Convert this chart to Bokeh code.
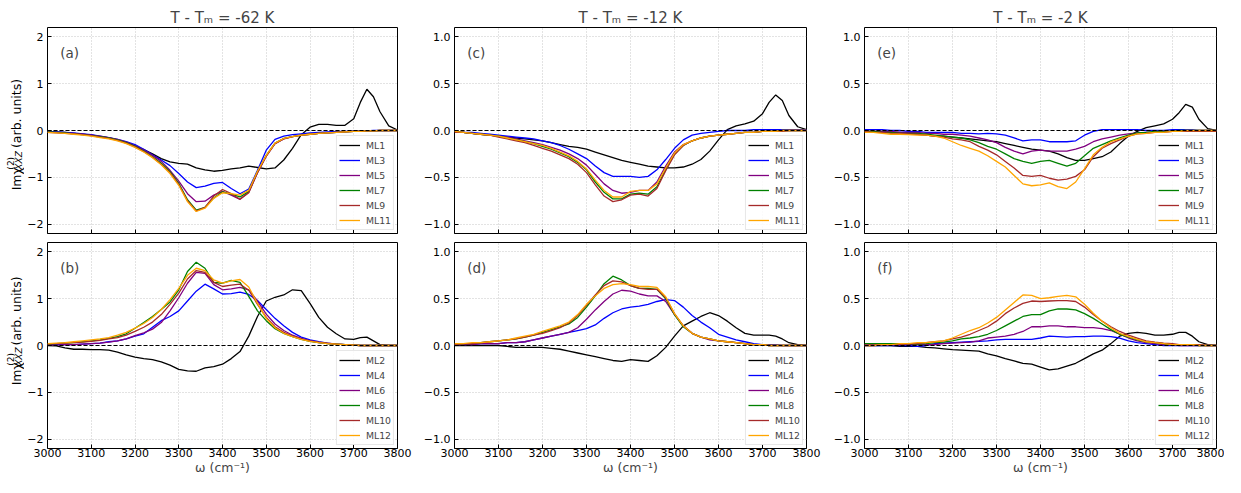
import math
from bokeh.plotting import figure
from bokeh.layouts import row, column
from bokeh.models import Range1d, FixedTicker, Span, Label, Spacer
from bokeh.core.properties import value
from bokeh.embed import file_html
from bokeh.resources import INLINE

# ---------------- data ----------------
omega = [3000, 3020, 3040, 3060, 3080, 3100, 3120, 3140, 3160, 3180,
         3200, 3220, 3240, 3260, 3280, 3300, 3320, 3340, 3360, 3380,
         3400, 3420, 3440, 3460, 3480, 3500, 3520, 3540, 3560, 3580,
         3600, 3620, 3640, 3660, 3680, 3700, 3715, 3730, 3745, 3760, 3780, 3800]

x_ticks = [3000, 3100, 3200, 3300, 3400, 3500, 3600, 3700, 3800]
titles = ["T - Tₘ = -62 K", "T - Tₘ = -12 K", "T - Tₘ = -2 K"]
odd_names = ["ML1", "ML3", "ML5", "ML7", "ML9", "ML11"]
even_names = ["ML2", "ML4", "ML6", "ML8", "ML10", "ML12"]
ylabel_parts = ["Imχ", "(2)", "XXZ", "(arb. units)"]

# (a) T - Tm = -62 K, odd layers
a_ML1 = [-0.02, -0.03, -0.04, -0.06, -0.08, -0.10, -0.13, -0.16, -0.20, -0.26,
         -0.33, -0.41, -0.50, -0.60, -0.67, -0.70, -0.72, -0.80, -0.84, -0.87,
         -0.85, -0.82, -0.80, -0.76, -0.79, -0.82, -0.80, -0.63, -0.38, -0.09,
         0.07, 0.13, 0.13, 0.11, 0.11, 0.25, 0.60, 0.88, 0.72, 0.40, 0.10, 0.01]
a_ML3 = [-0.02, -0.03, -0.04, -0.05, -0.07, -0.09, -0.12, -0.15, -0.19, -0.24,
         -0.30, -0.40, -0.52, -0.63, -0.75, -0.92, -1.10, -1.22, -1.19, -1.13,
         -1.11, -1.24, -1.35, -1.25, -0.85, -0.42, -0.19, -0.12, -0.09, -0.07,
         -0.05, -0.04, -0.03, -0.02, -0.02, -0.01, -0.01, -0.01, 0.0, 0.0, 0.0, 0.0]
a_ML5 = [-0.03, -0.04, -0.05, -0.06, -0.08, -0.10, -0.12, -0.15, -0.19, -0.25,
         -0.33, -0.42, -0.53, -0.66, -0.85, -1.08, -1.35, -1.52, -1.51, -1.38,
         -1.30, -1.38, -1.47, -1.32, -0.90, -0.55, -0.28, -0.18, -0.13, -0.10,
         -0.08, -0.06, -0.05, -0.04, -0.03, -0.02, -0.02, -0.01, -0.01, 0.0, 0.0, 0.0]
a_ML7 = [-0.03, -0.04, -0.05, -0.07, -0.09, -0.11, -0.13, -0.16, -0.20, -0.26,
         -0.34, -0.44, -0.56, -0.70, -0.88, -1.13, -1.48, -1.70, -1.64, -1.44,
         -1.31, -1.36, -1.42, -1.30, -0.88, -0.53, -0.27, -0.17, -0.13, -0.10,
         -0.08, -0.06, -0.05, -0.04, -0.03, -0.02, -0.02, -0.01, -0.01, 0.0, 0.0, 0.0]
a_ML9 = [-0.04, -0.05, -0.06, -0.07, -0.09, -0.11, -0.14, -0.17, -0.21, -0.27,
         -0.35, -0.45, -0.57, -0.72, -0.90, -1.15, -1.50, -1.72, -1.64, -1.40,
         -1.26, -1.35, -1.47, -1.33, -0.90, -0.55, -0.28, -0.18, -0.13, -0.10,
         -0.08, -0.06, -0.05, -0.04, -0.03, -0.02, -0.02, -0.01, -0.01, 0.0, 0.0, 0.0]
a_ML11 = [-0.04, -0.05, -0.06, -0.08, -0.10, -0.12, -0.15, -0.18, -0.22, -0.28,
          -0.36, -0.46, -0.58, -0.73, -0.92, -1.17, -1.52, -1.73, -1.66, -1.45,
          -1.33, -1.35, -1.38, -1.28, -0.87, -0.53, -0.27, -0.17, -0.13, -0.10,
          -0.08, -0.06, -0.05, -0.04, -0.03, -0.02, -0.02, -0.01, -0.01, 0.0, 0.0, 0.0]

# (b) T - Tm = -62 K, even layers
b_ML2 = [0.0, -0.01, -0.05, -0.08, -0.08, -0.09, -0.09, -0.10, -0.14, -0.20,
         -0.25, -0.28, -0.30, -0.35, -0.42, -0.51, -0.54, -0.55, -0.48, -0.45,
         -0.40, -0.28, -0.13, 0.20, 0.62, 0.95, 1.03, 1.08, 1.19, 1.17,
         0.90, 0.60, 0.39, 0.25, 0.14, 0.13, 0.17, 0.18, 0.10, 0.02, 0.0, 0.0]
b_ML4 = [0.02, 0.02, 0.02, 0.02, 0.03, 0.04, 0.05, 0.08, 0.10, 0.14,
         0.20, 0.25, 0.39, 0.53, 0.62, 0.74, 0.95, 1.16, 1.31, 1.21,
         1.10, 1.11, 1.14, 1.09, 0.96, 0.77, 0.58, 0.42, 0.28, 0.18,
         0.12, 0.08, 0.05, 0.03, 0.02, 0.01, 0.0, 0.0, 0.0, 0.0, 0.0, 0.0]
b_ML6 = [0.01, 0.01, 0.02, 0.02, 0.03, 0.04, 0.05, 0.07, 0.10, 0.14,
         0.21, 0.27, 0.35, 0.49, 0.74, 1.02, 1.33, 1.56, 1.54, 1.30,
         1.19, 1.21, 1.24, 1.19, 0.95, 0.67, 0.46, 0.32, 0.22, 0.15,
         0.10, 0.06, 0.04, 0.03, 0.02, 0.01, 0.0, 0.0, 0.0, 0.0, 0.0, 0.0]
b_ML8 = [0.03, 0.04, 0.05, 0.06, 0.08, 0.10, 0.12, 0.15, 0.19, 0.25,
         0.37, 0.49, 0.62, 0.77, 0.93, 1.19, 1.58, 1.78, 1.65, 1.35,
         1.33, 1.39, 1.35, 1.05, 0.74, 0.53, 0.36, 0.26, 0.19, 0.13,
         0.09, 0.06, 0.04, 0.03, 0.02, 0.01, 0.0, 0.0, 0.0, 0.0, 0.0, 0.0]
b_ML10 = [0.03, 0.04, 0.05, 0.06, 0.07, 0.09, 0.11, 0.14, 0.17, 0.22,
          0.30, 0.39, 0.50, 0.66, 0.88, 1.12, 1.42, 1.60, 1.56, 1.35,
          1.26, 1.29, 1.31, 1.18, 0.88, 0.60, 0.40, 0.28, 0.20, 0.14,
          0.10, 0.07, 0.05, 0.03, 0.02, 0.01, 0.0, 0.0, 0.0, 0.0, 0.0, 0.0]
b_ML12 = [0.04, 0.05, 0.06, 0.08, 0.10, 0.12, 0.14, 0.17, 0.22, 0.28,
          0.37, 0.47, 0.60, 0.77, 0.98, 1.22, 1.50, 1.65, 1.60, 1.40,
          1.33, 1.38, 1.41, 1.25, 0.90, 0.58, 0.38, 0.26, 0.19, 0.13,
          0.09, 0.06, 0.04, 0.03, 0.02, 0.01, 0.0, 0.0, 0.0, 0.0, 0.0, 0.0]

# (c) T - Tm = -12 K, odd layers
c_ML1 = [-0.02, -0.02, -0.03, -0.04, -0.05, -0.06, -0.07, -0.08, -0.09, -0.10,
         -0.11, -0.13, -0.15, -0.17, -0.18, -0.20, -0.23, -0.26, -0.29, -0.32,
         -0.34, -0.36, -0.38, -0.39, -0.40, -0.40, -0.39, -0.36, -0.31, -0.22,
         -0.10, 0.01, 0.05, 0.07, 0.10, 0.18, 0.30, 0.38, 0.32, 0.16, 0.04, 0.01]
c_ML3 = [-0.01, -0.02, -0.02, -0.03, -0.04, -0.05, -0.06, -0.07, -0.08, -0.09,
         -0.11, -0.13, -0.16, -0.20, -0.25, -0.30, -0.38, -0.45, -0.49, -0.49,
         -0.49, -0.50, -0.49, -0.42, -0.31, -0.19, -0.10, -0.05, -0.03, -0.02,
         -0.01, 0.0, 0.0, 0.0, 0.01, 0.01, 0.01, 0.01, 0.01, 0.01, 0.01, 0.01]
c_ML5 = [-0.01, -0.02, -0.03, -0.04, -0.05, -0.06, -0.07, -0.09, -0.11, -0.13,
         -0.15, -0.18, -0.21, -0.25, -0.30, -0.37, -0.47, -0.57, -0.64, -0.67,
         -0.66, -0.64, -0.64, -0.55, -0.38, -0.23, -0.15, -0.11, -0.08, -0.06,
         -0.05, -0.04, -0.03, -0.02, -0.02, -0.01, -0.01, -0.01, 0.0, 0.0, 0.0, 0.0]
c_ML7 = [-0.01, -0.02, -0.03, -0.04, -0.05, -0.06, -0.08, -0.10, -0.12, -0.14,
         -0.17, -0.20, -0.24, -0.28, -0.34, -0.42, -0.55, -0.66, -0.73, -0.73,
         -0.68, -0.67, -0.68, -0.60, -0.42, -0.25, -0.16, -0.11, -0.08, -0.06,
         -0.05, -0.04, -0.03, -0.02, -0.02, -0.01, -0.01, -0.01, 0.0, 0.0, 0.0, 0.0]
c_ML9 = [-0.02, -0.02, -0.03, -0.04, -0.05, -0.07, -0.09, -0.11, -0.13, -0.16,
         -0.19, -0.22, -0.26, -0.30, -0.36, -0.45, -0.58, -0.70, -0.76, -0.74,
         -0.69, -0.68, -0.70, -0.62, -0.43, -0.26, -0.16, -0.11, -0.08, -0.06,
         -0.05, -0.04, -0.03, -0.02, -0.02, -0.01, -0.01, -0.01, -0.01, 0.0, 0.0, 0.0]
c_ML11 = [-0.01, -0.02, -0.03, -0.04, -0.05, -0.06, -0.08, -0.10, -0.12, -0.14,
          -0.16, -0.19, -0.23, -0.27, -0.33, -0.41, -0.53, -0.64, -0.71, -0.71,
          -0.65, -0.64, -0.64, -0.57, -0.40, -0.24, -0.15, -0.11, -0.08, -0.06,
          -0.05, -0.04, -0.03, -0.02, -0.02, -0.01, -0.01, -0.01, 0.0, 0.0, 0.0, 0.0]

# (d) T - Tm = -12 K, even layers
d_ML2 = [0.0, 0.0, 0.0, 0.0, 0.0, 0.0, -0.01, -0.02, -0.02, -0.02,
         -0.02, -0.03, -0.04, -0.06, -0.08, -0.10, -0.12, -0.14, -0.16, -0.17,
         -0.15, -0.16, -0.17, -0.11, -0.02, 0.10, 0.21, 0.26, 0.31, 0.35,
         0.32, 0.26, 0.19, 0.13, 0.11, 0.11, 0.11, 0.10, 0.07, 0.03, 0.01, 0.0]
d_ML4 = [0.01, 0.01, 0.01, 0.02, 0.02, 0.02, 0.03, 0.03, 0.04, 0.06,
         0.08, 0.10, 0.12, 0.14, 0.16, 0.18, 0.22, 0.29, 0.35, 0.39,
         0.41, 0.42, 0.44, 0.47, 0.49, 0.48, 0.41, 0.32, 0.25, 0.19,
         0.12, 0.09, 0.06, 0.04, 0.02, 0.01, 0.01, 0.01, 0.0, 0.0, 0.0, 0.0]
d_ML6 = [0.01, 0.01, 0.01, 0.02, 0.02, 0.02, 0.03, 0.03, 0.04, 0.06,
         0.08, 0.10, 0.12, 0.14, 0.19, 0.28, 0.38, 0.47, 0.55, 0.59,
         0.58, 0.55, 0.53, 0.53, 0.47, 0.33, 0.21, 0.13, 0.09, 0.06,
         0.05, 0.04, 0.03, 0.02, 0.01, 0.01, 0.0, 0.0, 0.0, 0.0, 0.0, 0.0]
d_ML8 = [0.01, 0.02, 0.02, 0.03, 0.04, 0.05, 0.06, 0.07, 0.09, 0.11,
         0.14, 0.17, 0.20, 0.23, 0.30, 0.41, 0.53, 0.66, 0.74, 0.70,
         0.64, 0.61, 0.61, 0.60, 0.50, 0.33, 0.20, 0.13, 0.09, 0.07,
         0.05, 0.04, 0.03, 0.02, 0.01, 0.01, 0.0, 0.0, 0.0, 0.0, 0.0, 0.0]
d_ML10 = [0.01, 0.02, 0.02, 0.03, 0.04, 0.05, 0.06, 0.07, 0.09, 0.11,
          0.13, 0.16, 0.19, 0.24, 0.32, 0.43, 0.54, 0.64, 0.69, 0.68,
          0.64, 0.61, 0.60, 0.60, 0.51, 0.34, 0.21, 0.13, 0.09, 0.07,
          0.05, 0.04, 0.03, 0.02, 0.01, 0.01, 0.0, 0.0, 0.0, 0.0, 0.0, 0.0]
d_ML12 = [0.02, 0.02, 0.03, 0.03, 0.04, 0.05, 0.06, 0.08, 0.10, 0.12,
          0.15, 0.18, 0.21, 0.25, 0.33, 0.44, 0.53, 0.61, 0.65, 0.66,
          0.65, 0.63, 0.63, 0.62, 0.52, 0.34, 0.21, 0.13, 0.09, 0.07,
          0.05, 0.04, 0.03, 0.02, 0.01, 0.01, 0.0, 0.0, 0.0, 0.0, 0.0, 0.0]

# (e) T - Tm = -2 K, odd layers
e_ML1 = [-0.01, -0.01, -0.01, -0.02, -0.02, -0.03, -0.04, -0.05, -0.06, -0.06,
         -0.07, -0.08, -0.09, -0.10, -0.11, -0.12, -0.14, -0.16, -0.18, -0.20,
         -0.21, -0.22, -0.25, -0.29, -0.32, -0.32, -0.30, -0.28, -0.23, -0.14,
         -0.06, -0.01, 0.03, 0.05, 0.07, 0.12, 0.19, 0.28, 0.25, 0.12, 0.02, 0.0]
e_ML3 = [0.01, 0.01, 0.01, 0.0, 0.0, -0.01, -0.01, -0.02, -0.02, -0.02,
         -0.02, -0.03, -0.03, -0.035, -0.03, -0.035, -0.05, -0.08, -0.11, -0.10,
         -0.10, -0.12, -0.12, -0.12, -0.11, -0.05, -0.01, 0.01, 0.01, 0.01,
         0.01, 0.01, 0.0, 0.0, 0.0, 0.01, 0.01, 0.01, 0.01, 0.0, 0.0, 0.0]
e_ML5 = [-0.01, -0.01, -0.01, -0.01, -0.02, -0.02, -0.02, -0.03, -0.03, -0.04,
         -0.04, -0.05, -0.06, -0.08, -0.10, -0.13, -0.18, -0.22, -0.25, -0.22,
         -0.21, -0.22, -0.22, -0.22, -0.20, -0.17, -0.12, -0.09, -0.07, -0.05,
         -0.035, -0.025, -0.02, -0.02, -0.01, -0.01, -0.01, -0.01, -0.01, 0.0, 0.0, 0.0]
e_ML7 = [-0.01, -0.01, -0.02, -0.02, -0.03, -0.03, -0.03, -0.04, -0.05, -0.06,
         -0.07, -0.08, -0.10, -0.13, -0.17, -0.20, -0.25, -0.30, -0.33, -0.35,
         -0.33, -0.32, -0.35, -0.38, -0.35, -0.27, -0.19, -0.15, -0.11, -0.08,
         -0.05, -0.025, -0.02, -0.01, -0.01, -0.01, 0.0, 0.0, 0.0, 0.0, 0.0, 0.0]
e_ML9 = [-0.01, -0.02, -0.02, -0.03, -0.03, -0.035, -0.04, -0.05, -0.06, -0.07,
         -0.09, -0.10, -0.12, -0.17, -0.21, -0.26, -0.33, -0.40, -0.48, -0.49,
         -0.48, -0.51, -0.53, -0.52, -0.49, -0.42, -0.28, -0.19, -0.14, -0.10,
         -0.06, -0.035, -0.03, -0.02, -0.02, -0.01, -0.01, -0.01, -0.01, -0.01, -0.01, -0.01]
e_ML11 = [-0.02, -0.02, -0.03, -0.04, -0.04, -0.045, -0.05, -0.05, -0.06, -0.08,
          -0.12, -0.16, -0.19, -0.22, -0.27, -0.33, -0.39, -0.48, -0.57, -0.59,
          -0.58, -0.56, -0.60, -0.62, -0.55, -0.41, -0.26, -0.18, -0.12, -0.09,
          -0.06, -0.035, -0.03, -0.02, -0.02, -0.01, -0.01, 0.0, 0.0, 0.0, 0.0, 0.0]

# (f) T - Tm = -2 K, even layers
f_ML2 = [0.0, 0.0, 0.0, 0.0, -0.01, -0.01, -0.01, -0.02, -0.025, -0.035,
         -0.045, -0.05, -0.055, -0.06, -0.09, -0.11, -0.14, -0.165, -0.19, -0.20,
         -0.23, -0.26, -0.25, -0.22, -0.19, -0.14, -0.09, -0.05, 0.02, 0.10,
         0.13, 0.14, 0.13, 0.11, 0.11, 0.12, 0.14, 0.14, 0.10, 0.04, 0.01, 0.0]
f_ML4 = [0.0, 0.0, 0.0, 0.0, 0.0, 0.0, -0.01, 0.0, 0.02, 0.025,
         0.03, 0.035, 0.04, 0.045, 0.05, 0.06, 0.065, 0.065, 0.065, 0.065,
         0.08, 0.10, 0.095, 0.09, 0.095, 0.095, 0.10, 0.10, 0.095, 0.08,
         0.05, 0.03, 0.02, 0.01, 0.0, 0.0, 0.0, 0.0, 0.0, 0.0, 0.0, 0.0]
f_ML6 = [0.01, 0.01, 0.01, 0.01, 0.01, 0.01, 0.01, 0.01, 0.01, 0.02,
         0.025, 0.03, 0.035, 0.05, 0.08, 0.09, 0.10, 0.12, 0.15, 0.20,
         0.20, 0.21, 0.21, 0.20, 0.20, 0.19, 0.19, 0.18, 0.16, 0.12,
         0.08, 0.05, 0.03, 0.02, 0.01, 0.01, 0.0, 0.0, 0.0, 0.0, 0.0, 0.0]
f_ML8 = [0.02, 0.02, 0.02, 0.02, 0.02, 0.02, 0.015, 0.02, 0.03, 0.035,
         0.05, 0.07, 0.08, 0.095, 0.12, 0.16, 0.21, 0.26, 0.31, 0.33,
         0.33, 0.37, 0.39, 0.39, 0.38, 0.34, 0.29, 0.23, 0.17, 0.12,
         0.09, 0.06, 0.04, 0.03, 0.02, 0.01, 0.01, 0.01, 0.01, 0.0, 0.0, 0.0]
f_ML10 = [0.0, 0.0, 0.01, 0.01, 0.01, 0.02, 0.02, 0.03, 0.04, 0.05,
          0.07, 0.09, 0.12, 0.16, 0.20, 0.26, 0.34, 0.40, 0.45, 0.475,
          0.47, 0.475, 0.48, 0.48, 0.47, 0.41, 0.33, 0.26, 0.20, 0.15,
          0.11, 0.08, 0.05, 0.035, 0.025, 0.02, 0.01, 0.01, 0.01, 0.01, 0.0, 0.0]
f_ML12 = [0.0, 0.0, 0.01, 0.01, 0.02, 0.02, 0.03, 0.03, 0.04, 0.05,
          0.08, 0.12, 0.16, 0.19, 0.24, 0.30, 0.38, 0.46, 0.54, 0.535,
          0.50, 0.51, 0.525, 0.535, 0.52, 0.44, 0.345, 0.26, 0.19, 0.13,
          0.095, 0.065, 0.04, 0.03, 0.02, 0.01, 0.01, 0.01, 0.01, 0.0, 0.0, 0.0]

# ---------------- styling ----------------
FONT = "DejaVu Sans"
COLORS = ["black", "blue", "purple", "green", "#a52a2a", "orange"]
MINUS = "\u2212"
FRAME_W = 352
X0, X1 = 3000, 3800
LABEL_W = 24
TOP_PAD = 5
# per row: (top border, frame height, bottom border)
ROW_DIMS = [(20, 208, 1), (8, 207, 28)]


def tick_label(v, decimals):
    s = f"{abs(v):.{decimals}f}"
    return (MINUS + s) if v < 0 else s


def make_panel(letter, names, series, ylim, yticks, decimals, title, col, rowi):
    left_border = [21, 34, 34][col]
    right_border = [23, 24, 8][col]
    top_border, frame_h, bottom_border = ROW_DIMS[rowi]
    bottom = rowi == 1
    p = figure(width=left_border + FRAME_W + right_border,
               height=top_border + frame_h + bottom_border,
               min_border_left=left_border, min_border_right=right_border,
               min_border_top=top_border, min_border_bottom=bottom_border,
               x_range=Range1d(X0, X1), y_range=Range1d(-ylim, ylim),
               output_backend="svg", toolbar_location=None, title=title)
    p.background_fill_color = "white"
    p.border_fill_color = "white"
    p.outline_line_color = "black"
    p.outline_line_width = 1
    if title:
        p.title.align = "center"
        p.title.text_font = FONT
        p.title.text_font_size = "15px"
        p.title.text_font_style = "normal"
        p.title.standoff = 2

    p.xaxis.ticker = FixedTicker(ticks=x_ticks)
    p.yaxis.ticker = FixedTicker(ticks=yticks)
    p.yaxis.major_label_overrides = {t: tick_label(t, decimals) for t in yticks}
    for ax in (p.xaxis[0], p.yaxis[0]):
        ax.axis_line_color = None
        ax.major_tick_in = 4
        ax.major_tick_out = 0
        ax.minor_tick_line_color = None
        ax.major_tick_line_color = "black"
        ax.major_label_text_font = FONT
        ax.major_label_text_font_size = "11px"
        ax.major_label_text_color = "black"
    p.yaxis.major_label_standoff = 4
    if bottom:
        p.xaxis.major_label_standoff = 0
        p.xaxis.axis_label = "ω (cm⁻¹)"
        p.xaxis.axis_label_text_font = FONT
        p.xaxis.axis_label_text_font_size = "12.5px"
        p.xaxis.axis_label_text_font_style = "normal"
        p.xaxis.axis_label_standoff = 0
    else:
        p.xaxis.major_label_text_font_size = "0px"
        p.xaxis.major_label_text_color = None
        p.xaxis.major_label_standoff = 0

    p.grid.grid_line_color = "#b0b0b0"
    p.grid.grid_line_dash = "1 2"
    p.grid.grid_line_width = 0.8
    p.grid.grid_line_alpha = 0.9

    for name, ys, color in zip(names, series, COLORS):
        p.line(omega, ys, line_color=color, line_width=1.3, legend_label=name)

    p.add_layout(Span(location=0, dimension="width", line_color="black",
                      line_dash="4 2", line_width=1.2))

    p.legend.location = "bottom_right"
    p.legend.label_text_font = FONT
    p.legend.label_text_font_size = "9.3px"
    p.legend.label_height = 14
    p.legend.glyph_height = 14
    p.legend.glyph_width = 21
    p.legend.label_standoff = 6
    p.legend.spacing = 1
    p.legend.padding = 2
    p.legend.margin = 3
    p.legend.border_line_color = "#d0d0d0"
    p.legend.border_line_width = 1
    p.legend.background_fill_alpha = 0.85

    p.add_layout(Label(x=3029, y=ylim * 0.755, text=f"({letter})",
                       text_font=FONT, text_font_size="13.5px",
                       text_align="left", text_baseline="middle"))
    return p


def make_ylabel(rowi):
    """Narrow strip left of the first column carrying the rotated y label
    Im chi^(2)_XXZ (arb. units), composed of normal, super- and subscript parts."""
    top_border, frame_h, bottom_border = ROW_DIMS[rowi]
    h = top_border + frame_h + bottom_border
    lf = figure(width=LABEL_W, height=h, min_border=0,
                x_range=Range1d(0, LABEL_W), y_range=Range1d(0, h),
                x_axis_location=None, y_axis_location=None,
                output_backend="svg", toolbar_location=None)
    lf.outline_line_color = None
    lf.grid.visible = False
    lf.background_fill_color = "white"
    lf.border_fill_color = "white"
    start = bottom_border + frame_h / 2 - 57
    # (x of baseline, offset along the label, size, style)
    layout_spec = [(16, 0, "12.5px", "normal"),
                   (10, 23, "9px", "normal"),
                   (18.5, 23, "9px", "italic"),
                   (16, 47, "12.5px", "normal")]
    for txt, (bx, off, fs, style) in zip(ylabel_parts, layout_spec):
        lf.text(x=[bx], y=[start + off], text=[txt], angle=math.pi / 2,
                text_font=value(FONT), text_font_size=value(fs),
                text_font_style=style, text_align="left",
                text_baseline="alphabetic", text_color="black")
    return lf


yt_big = [-2, -1, 0, 1, 2]
yt_small = [-1.0, -0.5, 0.0, 0.5, 1.0]

pa = make_panel("a", odd_names, [a_ML1, a_ML3, a_ML5, a_ML7, a_ML9, a_ML11], 2.2, yt_big, 0, titles[0], 0, 0)
pb = make_panel("b", even_names, [b_ML2, b_ML4, b_ML6, b_ML8, b_ML10, b_ML12], 2.2, yt_big, 0, None, 0, 1)
pc = make_panel("c", odd_names, [c_ML1, c_ML3, c_ML5, c_ML7, c_ML9, c_ML11], 1.1, yt_small, 1, titles[1], 1, 0)
pd = make_panel("d", even_names, [d_ML2, d_ML4, d_ML6, d_ML8, d_ML10, d_ML12], 1.1, yt_small, 1, None, 1, 1)
pe = make_panel("e", odd_names, [e_ML1, e_ML3, e_ML5, e_ML7, e_ML9, e_ML11], 1.1, yt_small, 1, titles[2], 2, 0)
pf = make_panel("f", even_names, [f_ML2, f_ML4, f_ML6, f_ML8, f_ML10, f_ML12], 1.1, yt_small, 1, None, 2, 1)

layout = column(Spacer(width=10, height=TOP_PAD),
                row(make_ylabel(0), pa, pc, pe),
                row(make_ylabel(1), pb, pd, pf))

open("out.html", "w").write(file_html(layout, INLINE))
